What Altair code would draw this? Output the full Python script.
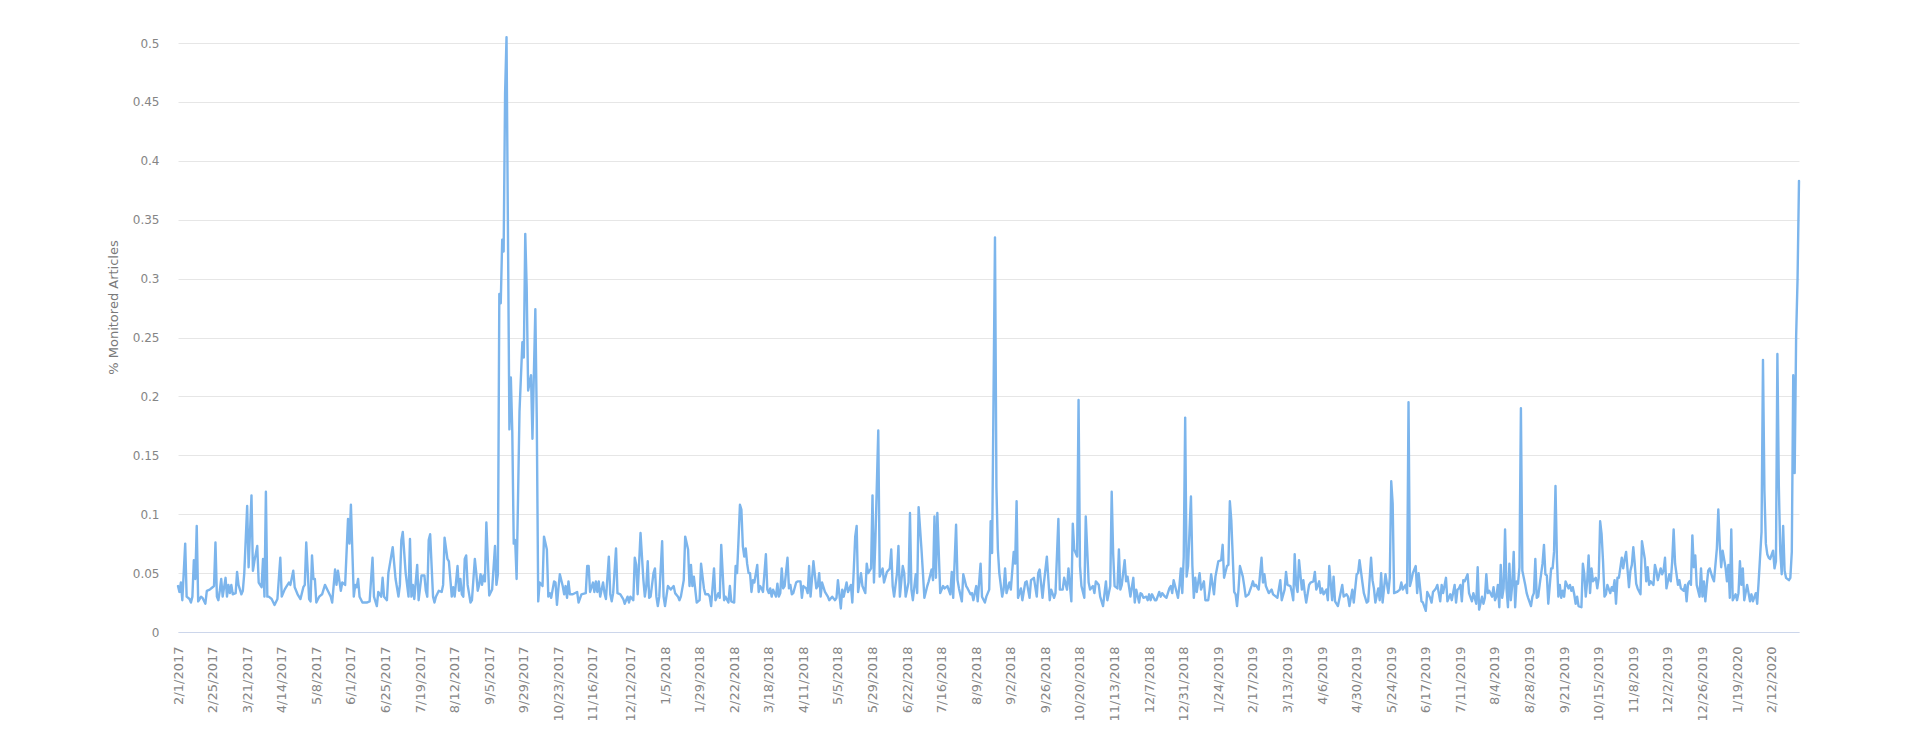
import altair as alt
import pandas as pd

START = "2017-02-01"
END_DAY = 1125

# (days since 2017-02-01, % monitored articles)
SEG_2017_SPRING = [
    (0,.039),(1,.034),(2,.042),(3,.027),(5,.075),(6,.030),(8,.028),(9,.025),(10,.030),(11,.061),
    (12,.045),(13,.090),(14,.026),(15,.028),(16,.030),(17,.029),(19,.024),(20,.035),(22,.036),(24,.038),
    (25,.039),(26,.076),(27,.030),(28,.027),(29,.035),(30,.045),(31,.030),(33,.046),(34,.030),(35,.040),
    (36,.033),(37,.040),(38,.032),(40,.033),(41,.051),(42,.040),(44,.032),(45,.035),(46,.050),(48,.107),
    (49,.055),(51,.116),(52,.052),(53,.060),(55,.073),(56,.042),(58,.038),(59,.062),(60,.030),(61,.119),
    (62,.030),(63,.030),(65,.028),(67,.023),(69,.028),(71,.063),(72,.030),(74,.036),(75,.038),(77,.042),
    (78,.040),(80,.052),(81,.038),(83,.032),(85,.028),(87,.038),(88,.040),(89,.076),(91,.028),(92,.026),
    (93,.065),(94,.045),(95,.045),(96,.025),(98,.030),(100,.032),(102,.040),(104,.035),(106,.030),(107,.025),
]
SEG_2017_SUMMER = [
    (109,.053),(110,.040),(111,.052),(113,.035),(114,.042),(116,.040),(118,.096),(119,.075),(120,.108),(122,.030),
    (123,.040),(124,.038),(125,.045),(126,.030),(128,.025),(131,.025),(133,.026),(135,.063),(136,.030),(138,.022),
    (139,.034),(141,.030),(142,.046),(143,.030),(145,.027),(146,.050),(149,.072),(151,.045),(153,.030),(154,.040),
    (155,.078),(156,.085),(158,.050),(160,.030),(161,.079),(162,.030),(163,.040),(164,.028),(166,.057),(167,.027),
    (169,.048),(171,.048),(172,.035),(173,.030),(174,.078),(175,.083),(177,.030),(178,.025),(179,.030),(181,.035),
    (183,.034),(184,.040),(185,.080),(187,.062),(188,.060),(190,.030),(191,.038),(192,.030),(194,.056),(195,.035),
    (196,.045),(197,.032),(198,.030),(199,.062),(200,.065),(201,.040),(203,.025),(204,.027),(206,.062),(207,.050),
    (208,.035),(209,.040),(210,.049),(211,.040),(212,.048),(213,.043),(214,.093),
]
SEG_2017_SEPT = [
    (216,.031),(218,.036),(220,.073),(221,.040),(222,.049),(223,.287),(224,.279),(225,.333),(226,.323),(227,.457),
    (228,.505),(230,.172),(231,.216),(232,.170),(233,.075),(234,.078),(235,.045),(236,.114),(237,.187),(239,.246),
    (240,.233),(241,.338),(242,.292),(243,.205),(245,.218),(246,.164),(247,.220),(248,.274),(249,.180),
]
SEG_2017_WINTER = [
    (250,.026),(251,.042),(253,.039),(254,.081),(256,.070),(257,.030),(258,.033),(259,.029),(261,.043),(262,.042),
    (263,.023),(264,.037),(265,.049),(267,.039),(268,.032),(269,.039),(270,.029),(271,.043),(272,.032),(274,.032),
    (277,.034),(278,.025),(280,.032),(283,.033),(284,.056),(285,.056),(286,.034),(288,.042),(289,.034),(290,.043),
    (291,.034),(292,.043),(293,.030),(295,.042),(296,.033),(297,.028),(299,.064),(300,.032),(301,.026),(302,.033),
    (304,.071),(305,.033),(307,.032),(309,.028),(310,.024),(312,.030),(313,.025),(314,.030),(316,.027),(317,.063),
    (318,.057),(319,.032),(321,.084),(323,.044),(324,.030),(325,.039),(326,.060),(327,.029),(328,.030),(330,.050),
    (331,.054),(332,.030),(333,.022),(334,.030),(336,.077),(337,.030),(338,.022),(340,.039),(342,.036),(344,.039),
]
SEG_2018_SPRING = [
    (345,.033),(347,.030),(348,.027),(349,.030),(351,.044),(352,.081),(354,.070),(355,.039),(356,.057),(357,.039),
    (358,.047),(360,.025),(362,.027),(363,.058),(365,.037),(366,.032),(368,.032),(369,.030),(370,.022),(372,.054),
    (373,.027),(375,.033),(376,.029),(377,.074),(379,.027),(380,.030),(382,.025),(383,.039),(384,.026),(386,.025),
    (387,.056),(388,.050),(389,.078),(390,.108),(391,.104),(392,.073),(393,.064),(394,.071),(395,.058),(396,.050),
    (397,.050),(398,.034),(399,.044),(400,.042),(402,.057),(403,.034),(404,.039),(405,.037),(406,.034),(408,.066),
    (409,.036),(410,.033),(411,.037),(412,.030),(413,.036),(415,.030),(416,.041),(417,.030),(418,.033),(419,.054),
    (420,.037),(421,.039),(423,.063),(424,.037),(425,.040),(426,.032),(427,.033),(429,.042),(430,.043),(432,.043),
    (433,.029),(434,.039),(436,.037),(437,.033),(438,.056),(439,.030),
]
SEG_2018_SUMMER = [
    (441,.060),(443,.037),(444,.039),(445,.050),(446,.030),(447,.042),(449,.034),(451,.030),(452,.027),(454,.030),
    (456,.027),(457,.029),(458,.044),(460,.020),(461,.036),(462,.030),(464,.042),(465,.034),(467,.040),(468,.025),
    (470,.081),(471,.090),(472,.034),(474,.050),(475,.039),(477,.033),(478,.058),(479,.050),(481,.054),(482,.116),
    (483,.042),(484,.078),(486,.171),(487,.047),(489,.054),(490,.042),(492,.051),(494,.054),(495,.070),(496,.039),
    (497,.030),(499,.050),(500,.073),(501,.030),(503,.056),(504,.050),(505,.030),(507,.042),(508,.101),(509,.036),
    (510,.027),(512,.049),(513,.033),(514,.106),(516,.070),(517,.050),(518,.029),(520,.039),(521,.043),(523,.053),
    (524,.044),(525,.098),(526,.046),(527,.101),(528,.067),(529,.033),(531,.039),(532,.037),(534,.039),(536,.032),
    (537,.051),(538,.029),(540,.091),(541,.044),(542,.037),(544,.026),(545,.049),(547,.039),(548,.037),(550,.032),
    (551,.033),(552,.027),(554,.039),(555,.026),(557,.058),(558,.030),(560,.025),(561,.030),(563,.036),(564,.094),
    (565,.067),(567,.335),(568,.123),(569,.070),(570,.050),(572,.030),(573,.036),(574,.054),(575,.033),(577,.042),
]
SEG_2018_AUTUMN = [
    (578,.036),(580,.068),(581,.058),(582,.111),(583,.029),(585,.037),(586,.027),(588,.042),(589,.043),(591,.029),
    (592,.044),(594,.046),(596,.030),(597,.050),(598,.053),(600,.029),(601,.042),(603,.064),(605,.027),(606,.036),
    (608,.029),(609,.033),(611,.096),(612,.036),(614,.036),(615,.046),(617,.036),(618,.054),(620,.026),(621,.092),
    (622,.070),(624,.064),(625,.197),(626,.056),(627,.039),(629,.029),(630,.098),(632,.042),(633,.036),(635,.039),
    (636,.033),(637,.043),(639,.040),(640,.030),(642,.022),(644,.043),(645,.027),(647,.039),(648,.119),(649,.067),
    (650,.039),(652,.037),(653,.070),(654,.036),(655,.040),(657,.061),(658,.043),(659,.047),(661,.030),(663,.046),
    (664,.025),(665,.036),(667,.025),(668,.033),(669,.032),(670,.029),(672,.030),(673,.027),(674,.032),(675,.027),
    (676,.032),(678,.027),(679,.027),(681,.034),(682,.030),(683,.033),(685,.030),(686,.029),(688,.037),(689,.039),
    (690,.033),(691,.044),(692,.039),(694,.029),(695,.039),(696,.054),(697,.033),(698,.064),
]
SEG_2019_SPRING = [
    (699,.182),(700,.047),(701,.056),(703,.115),(704,.056),(705,.029),(706,.046),(707,.034),(709,.050),(710,.036),
    (712,.043),(713,.027),(715,.027),(716,.036),(717,.049),(719,.032),(720,.047),(722,.060),(724,.061),(725,.074),
    (726,.046),(728,.056),(729,.057),(730,.111),(731,.095),(733,.034),(734,.032),(735,.022),(736,.036),(737,.056),
    (739,.047),(740,.039),(741,.030),(743,.032),(745,.039),(746,.043),(747,.039),(748,.040),(750,.036),(752,.063),
    (753,.042),(754,.049),(755,.039),(757,.033),(759,.036),(760,.032),(762,.030),(763,.029),(765,.044),(766,.027),
    (768,.036),(769,.051),(770,.040),(772,.039),(773,.034),(774,.027),(775,.066),(776,.040),(777,.034),(778,.061),
    (780,.036),(781,.044),(782,.033),(783,.025),(785,.040),(786,.042),(788,.043),(789,.051),(790,.036),(792,.043),
    (793,.033),(794,.037),(795,.032),(797,.036),(798,.027),(799,.056),(801,.027),(802,.047),(803,.026),(805,.022),
    (807,.034),(808,.040),(809,.030),(811,.032),(812,.030),(813,.022),(815,.036),(816,.025),(818,.049),(819,.050),
]
SEG_2019_SUMMER = [
    (820,.061),(822,.042),(823,.033),(825,.025),(826,.026),(828,.063),(829,.044),(830,.037),(831,.025),(833,.037),
    (834,.027),(835,.050),(836,.025),(838,.049),(840,.033),(841,.046),(842,.128),(843,.109),(844,.033),(846,.034),
    (848,.036),(849,.042),(850,.036),(852,.040),(853,.033),(854,.195),(855,.039),(856,.044),(857,.050),(859,.056),
    (860,.033),(861,.050),(863,.026),(864,.025),(866,.018),(867,.034),(869,.029),(870,.025),(871,.034),(873,.037),
    (874,.040),(876,.026),(877,.040),(878,.033),(880,.046),(881,.026),(883,.032),(884,.027),(886,.040),(887,.025),
    (888,.036),(889,.037),(890,.040),(891,.026),(892,.044),(893,.043),(895,.049),(896,.033),(898,.026),(899,.033),
    (901,.024),(902,.055),(903,.019),(905,.030),(906,.024),(907,.029),(908,.049),(909,.033),(910,.035),(912,.030),
    (913,.038),(914,.027),(915,.030),(916,.040),(917,.021),(918,.057),(919,.029),(920,.037),(921,.087),(922,.037),
    (923,.021),(924,.058),(925,.027),(926,.040),(927,.068),(928,.021),(929,.043),(930,.041),(931,.055),(932,.190),
    (933,.052),(935,.040),(936,.033),(937,.029),(939,.022),(940,.030),(941,.033),(942,.062),(943,.029),(944,.030),
]
SEG_2019_AUTUMN = [
    (945,.040),(947,.058),(948,.074),(949,.049),(950,.048),(951,.024),(953,.054),(954,.054),(955,.068),(956,.124),
    (957,.062),(958,.030),(959,.040),(960,.029),(961,.035),(962,.030),(963,.043),(965,.037),(966,.040),(967,.035),
    (968,.038),(969,.032),(970,.024),(971,.030),(972,.022),(974,.021),(975,.058),(976,.049),(977,.030),(978,.043),
    (979,.065),(980,.033),(981,.054),(982,.043),(984,.046),(985,.037),(986,.046),(987,.094),(988,.083),(989,.060),
    (990,.030),(991,.032),(992,.040),(994,.033),(995,.038),(996,.035),(997,.044),(998,.024),(999,.046),(1000,.046),
    (1002,.063),(1003,.054),(1004,.062),(1005,.068),(1007,.038),(1008,.052),(1009,.057),(1010,.072),(1011,.058),(1012,.041),
    (1013,.037),(1015,.032),(1016,.077),(1018,.062),(1019,.043),(1020,.055),(1021,.040),(1022,.043),(1024,.040),(1025,.057),
    (1026,.052),(1027,.044),(1029,.054),(1030,.049),(1031,.052),(1032,.063),(1033,.037),(1035,.049),(1036,.043),(1037,.060),
    (1038,.087),(1039,.058),(1041,.040),(1042,.044),(1043,.037),(1045,.035),(1046,.040),(1047,.026),(1048,.041),(1049,.043),
]
SEG_2020 = [
    (1050,.040),(1051,.082),(1052,.055),(1053,.065),(1054,.040),(1056,.030),(1057,.054),(1058,.030),(1059,.043),(1060,.026),
    (1061,.040),(1062,.052),(1063,.054),(1065,.046),(1066,.043),(1068,.071),(1069,.104),(1070,.074),(1071,.055),(1072,.069),
    (1074,.055),(1075,.043),(1076,.057),(1077,.029),(1078,.087),(1079,.027),(1081,.032),(1082,.027),(1083,.033),(1084,.060),
    (1085,.040),(1086,.054),(1087,.027),(1089,.040),(1090,.033),(1091,.026),(1092,.032),(1093,.026),(1095,.033),(1096,.024),
    (1097,.043),(1099,.085),(1100,.231),(1101,.120),(1102,.075),(1103,.066),(1104,.063),(1105,.062),(1107,.069),(1108,.054),
    (1109,.060),(1110,.236),(1111,.124),(1112,.068),(1113,.049),(1114,.090),(1115,.052),(1116,.046),(1118,.044),(1119,.046),
    (1120,.068),(1121,.218),(1122,.135),(1123,.250),(1124,.300),(1125,.383),
]

TICK_LABELS = [
    "2/1/2017", "2/25/2017", "3/21/2017", "4/14/2017", "5/8/2017", "6/1/2017", "6/25/2017",
    "7/19/2017", "8/12/2017", "9/5/2017", "9/29/2017", "10/23/2017", "11/16/2017", "12/12/2017",
    "1/5/2018", "1/29/2018", "2/22/2018", "3/18/2018", "4/11/2018", "5/5/2018", "5/29/2018",
    "6/22/2018", "7/16/2018", "8/9/2018", "9/2/2018", "9/26/2018", "10/20/2018", "11/13/2018",
    "12/7/2018", "12/31/2018", "1/24/2019", "2/17/2019", "3/13/2019", "4/6/2019", "4/30/2019",
    "5/24/2019", "6/17/2019", "7/11/2019", "8/4/2019", "8/28/2019", "9/21/2019", "10/15/2019",
    "11/8/2019", "12/2/2019", "12/26/2019", "1/19/2020", "2/12/2020",
]
Y_TICKS = [0, 0.05, 0.1, 0.15, 0.2, 0.25, 0.3, 0.35, 0.4, 0.45, 0.5]

pairs = (SEG_2017_SPRING + SEG_2017_SUMMER + SEG_2017_SEPT + SEG_2017_WINTER + SEG_2018_SPRING
         + SEG_2018_SUMMER + SEG_2018_AUTUMN + SEG_2019_SPRING + SEG_2019_SUMMER + SEG_2019_AUTUMN + SEG_2020)
df = pd.DataFrame(pairs, columns=["day", "value"])
start = pd.Timestamp(START)
df["date"] = (start + pd.to_timedelta(df["day"], unit="D")).dt.strftime("%Y-%m-%dT00:00:00")


def dt(ts):
    return alt.DateTime(year=ts.year, month=ts.month, date=ts.day)


tick_values = [dt(pd.to_datetime(s, format="%m/%d/%Y")) for s in TICK_LABELS]
end = start + pd.Timedelta(days=END_DAY)

line = alt.Chart(df).mark_line(
    color="#7cb5ec", strokeWidth=2.4, strokeJoin="round", strokeCap="round"
).encode(
    x=alt.X(
        "date:T",
        scale=alt.Scale(domain=[dt(start), dt(end)], nice=False, padding=0),
        axis=alt.Axis(
            values=tick_values,
            format="%-m/%-d/%Y",
            labelAngle=270,
            labelAlign="right",
            labelBaseline="middle",
            labelPadding=14,
            labelFont="DejaVu Sans",
            labelFontSize=13,
            labelColor="#858585",
            labelOverlap=False,
            labelFlush=False,
            ticks=False,
            grid=False,
            domainColor="#ccd6eb",
            domainWidth=1,
            title=None,
        ),
    ),
    y=alt.Y(
        "value:Q",
        scale=alt.Scale(domain=[0, 0.5], nice=False, zero=True),
        axis=alt.Axis(
            values=Y_TICKS,
            format=".2~f",
            labelFont="DejaVu Sans",
            labelFontSize=12,
            labelColor="#858585",
            labelPadding=19,
            ticks=False,
            domain=False,
            grid=True,
            gridColor="#e6e6e6",
            gridWidth=1,
            title="% Monitored Articles",
            titleFont="DejaVu Sans",
            titleFontSize=13,
            titleFontWeight="normal",
            titleColor="#7a7a7a",
            titleAngle=270,
            titleAlign="center",
            titleBaseline="middle",
            titleX=-65,
            titleY=264,
        ),
    ),
)

chart = line.properties(
    width=1621,
    height=589,
    background="white",
    autosize=alt.AutoSizeParams(type="none"),
    padding={"left": 170, "top": 35, "right": 110, "bottom": 100},
).configure_view(strokeWidth=0, stroke="transparent")

chart.save("out.html", embed_options={"renderer": "svg", "actions": False})
